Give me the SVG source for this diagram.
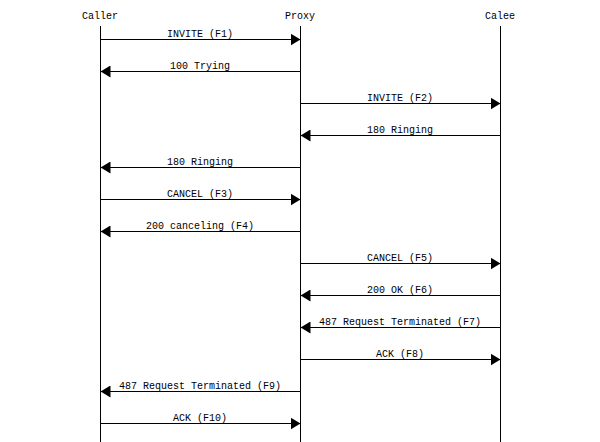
<svg xmlns="http://www.w3.org/2000/svg" width="600" height="442" viewBox="0 0 600 442">
<style>
text{font-family:"Liberation Mono","DejaVu Sans Mono",monospace;font-size:10px;fill:#000;text-anchor:middle}
.life{stroke:#000;stroke-width:1}
.msg{stroke:#000;stroke-width:1;fill:none}
</style>
<defs>
<marker id="ah" markerWidth="10" markerHeight="12" refX="10" refY="6" orient="auto" markerUnits="userSpaceOnUse">
<path d="M0,0 L10,6 L0,12 Z" fill="#000"/>
</marker>
</defs>
<rect width="600" height="442" fill="#fff"/>
<g id="caller"><text x="100" y="18.5">Caller</text><line class="life" x1="100.5" y1="26" x2="100.5" y2="442"/></g>
<g id="proxy"><text x="300" y="18.5">Proxy</text><line class="life" x1="300.5" y1="26" x2="300.5" y2="442"/></g>
<g id="calee"><text x="500" y="18.5">Calee</text><line class="life" x1="500.5" y1="26" x2="500.5" y2="442"/></g>
<g id="connectors">
<line class="msg" x1="100.5" y1="39.5" x2="300.5" y2="39.5" marker-end="url(#ah)"/><text x="200" y="37">INVITE (F1)</text>
<line class="msg" x1="300.5" y1="71.5" x2="100.5" y2="71.5" marker-end="url(#ah)"/><text x="200" y="69">100 Trying</text>
<line class="msg" x1="300.5" y1="103.5" x2="500.5" y2="103.5" marker-end="url(#ah)"/><text x="400" y="101">INVITE (F2)</text>
<line class="msg" x1="500.5" y1="135.5" x2="300.5" y2="135.5" marker-end="url(#ah)"/><text x="400" y="133">180 Ringing</text>
<line class="msg" x1="300.5" y1="167.5" x2="100.5" y2="167.5" marker-end="url(#ah)"/><text x="200" y="165">180 Ringing</text>
<line class="msg" x1="100.5" y1="199.5" x2="300.5" y2="199.5" marker-end="url(#ah)"/><text x="200" y="197">CANCEL (F3)</text>
<line class="msg" x1="300.5" y1="231.5" x2="100.5" y2="231.5" marker-end="url(#ah)"/><text x="200" y="229">200 canceling (F4)</text>
<line class="msg" x1="300.5" y1="263.5" x2="500.5" y2="263.5" marker-end="url(#ah)"/><text x="400" y="261">CANCEL (F5)</text>
<line class="msg" x1="500.5" y1="295.5" x2="300.5" y2="295.5" marker-end="url(#ah)"/><text x="400" y="293">200 OK (F6)</text>
<line class="msg" x1="500.5" y1="327.5" x2="300.5" y2="327.5" marker-end="url(#ah)"/><text x="400" y="325">487 Request Terminated (F7)</text>
<line class="msg" x1="300.5" y1="359.5" x2="500.5" y2="359.5" marker-end="url(#ah)"/><text x="400" y="357">ACK (F8)</text>
<line class="msg" x1="300.5" y1="391.5" x2="100.5" y2="391.5" marker-end="url(#ah)"/><text x="200" y="389">487 Request Terminated (F9)</text>
<line class="msg" x1="100.5" y1="423.5" x2="300.5" y2="423.5" marker-end="url(#ah)"/><text x="200" y="421">ACK (F10)</text>
</g>
</svg>
